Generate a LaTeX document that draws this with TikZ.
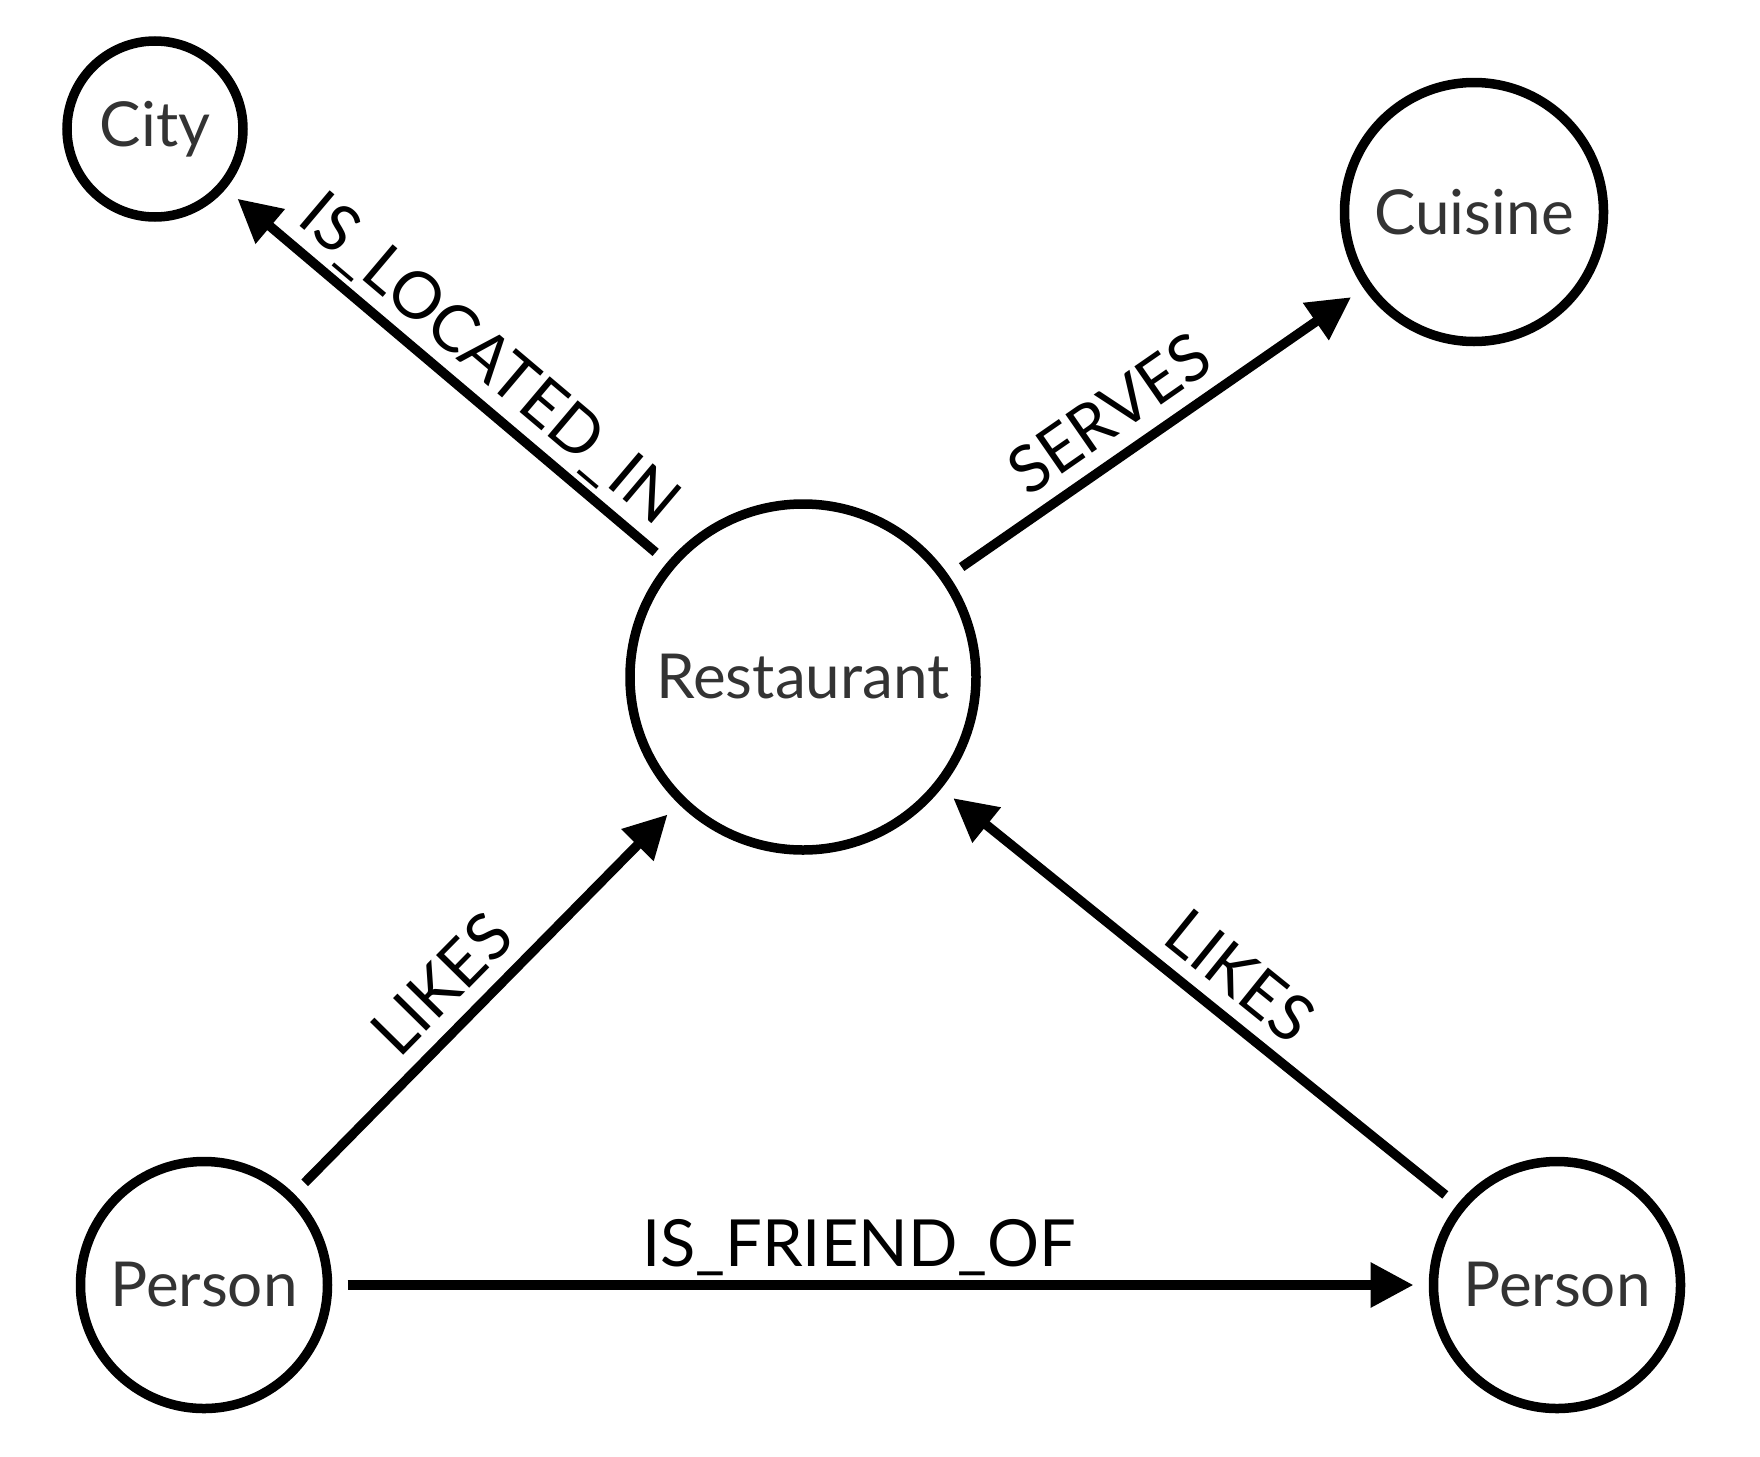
\documentclass[tikz,border=0pt]{standalone}
\usepackage{fontspec}
\setmainfont{Lato}
\usetikzlibrary{arrows.meta}
\definecolor{txt}{HTML}{333333}
\begin{document}
\begin{tikzpicture}[x=1pt,y=-1pt,
  ent/.style={circle, draw=black, line width=9.5pt, text=txt, inner sep=0pt, outer sep=20pt, font=\fontsize{62}{70}\selectfont},
  rel/.style={line width=9.5pt, -{Triangle[length=43pt,width=43pt]}},
  lbl/.style={sloped, anchor=base, yshift=19pt, font=\fontsize{65}{72}\selectfont, text=black, inner sep=0pt}]
\useasboundingbox (0,0) rectangle (1760,1456);
\node[ent, minimum size=176pt] (city) at (155,129) {City};
\node[ent, minimum size=259pt] (cuisine) at (1474,212) {Cuisine};
\node[ent, minimum size=346pt] (rest) at (803,677) {Restaurant};
\node[ent, minimum size=247pt] (p1) at (204,1285) {Person};
\node[ent, minimum size=247pt] (p2) at (1557,1285) {Person};
\draw[rel] (rest) -- node[lbl, pos=0.46] {IS\_LOCATED\_IN} (city);
\draw[rel] (rest) -- node[lbl, pos=0.44] {SERVES} (cuisine);
\draw[rel] (p1) -- node[lbl, pos=0.46] {LIKES} (rest);
\draw[rel] (p2) -- node[lbl, pos=0.47] {LIKES} (rest);
\draw[rel] (p1) -- node[lbl, pos=0.48] {IS\_FRIEND\_OF} (p2);
\end{tikzpicture}
\end{document}
